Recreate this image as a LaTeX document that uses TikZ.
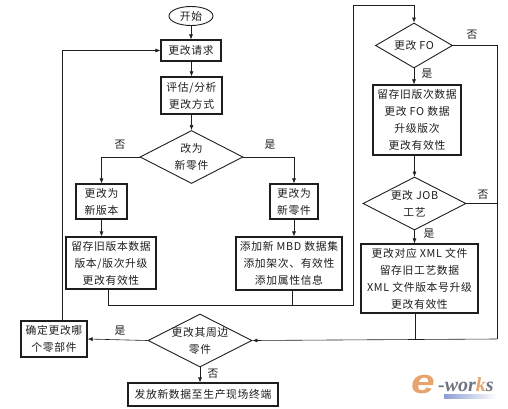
\documentclass[tikz,border=0pt]{standalone}
\usepackage{fontspec}
\setmainfont{Noto Sans CJK SC}[LetterSpace=6]
\newfontfamily\logofont{Liberation Sans}[BoldFont={Liberation Sans Bold},ItalicFont={Liberation Sans Italic},BoldItalicFont={Liberation Sans Bold Italic}]
\newfontfamily\logoserif{Liberation Serif}[BoldFont={Liberation Serif Bold},ItalicFont={Liberation Serif Italic},BoldItalicFont={Liberation Serif Bold Italic}]
\usetikzlibrary{shapes.geometric,arrows.meta}
\definecolor{ink}{HTML}{1E1E1E}
\definecolor{logoorange}{HTML}{E8A46C}
\definecolor{logogray}{HTML}{6F7280}
\definecolor{logoblue}{HTML}{8E9FD6}
\tikzset{
  x=1pt,y=-1pt,
  every node/.style={font=\fontsize{10.8}{17}\selectfont,text=ink},
  boxn/.style={draw=ink,line width=1.1pt,rectangle,inner sep=0pt,align=center},
  dec/.style={draw=ink,line width=0.9pt,diamond,inner sep=0pt},
  term/.style={draw=ink,line width=0.9pt,ellipse,inner sep=0pt},
  conn/.style={draw=ink,line width=0.6pt},
  flow/.style={conn,-{Latex[length=5pt,width=4pt]}},
  tag/.style={inner sep=0pt},
}
\begin{document}
\begin{tikzpicture}
\useasboundingbox (0,0) rectangle (508,409);
\node[term,minimum width=44pt,minimum height=19pt] (start) at (191,16) {开始};
\node[boxn,minimum width=60pt,minimum height=21pt] (req) at (191,50.5) {更改请求};
\node[boxn,minimum width=61pt,minimum height=37pt] (eval) at (191.5,95.5) {评估/分析\\更改方式};
\node[dec,minimum width=103pt,minimum height=53pt,label={[align=center,inner sep=0pt]center:改为\\新零件}] (d1) at (191.5,157) {};
\node[boxn,minimum width=51pt,minimum height=35pt] (v1) at (101.5,201.5) {更改为\\新版本};
\node[boxn,minimum width=48pt,minimum height=35pt] (p1) at (294,201.5) {更改为\\新零件};
\node[boxn,minimum width=90pt,minimum height=52pt] (v2) at (111,263) {留存旧版本数据\\版本/版次升级\\更改有效性};
\node[boxn,minimum width=106pt,minimum height=53pt] (p2) at (289,263.5) {添加新 MBD 数据集\\添加架次、有效性\\添加属性信息};
\node[dec,minimum width=77pt,minimum height=45pt,label={[inner sep=0pt]center:更改 FO}] (fo) at (414,45.5) {};
\node[boxn,minimum width=88pt,minimum height=70pt] (fo2) at (417,120) {留存旧版次数据\\更改 FO 数据\\升级版次\\更改有效性};
\node[dec,minimum width=103pt,minimum height=53pt,label={[align=center,inner sep=0pt]center:更改 JOB\\工艺}] (job) at (414.5,203.5) {};
\node[boxn,minimum width=117pt,minimum height=69pt] (job2) at (419.5,278.5) {更改对应 XML 文件\\留存旧工艺数据\\XML 文件版本号升级\\更改有效性};
\node[dec,minimum width=104pt,minimum height=53pt,label={[align=center,inner sep=0pt]center:更改其周边\\零件}] (d2) at (200,340.5) {};
\node[boxn,minimum width=66pt,minimum height=36pt] (which) at (54,339) {确定更改哪\\个零部件};
\node[boxn,minimum width=150pt,minimum height=23pt] (rel) at (203,394.5) {发放新数据至生产现场终端};

\coordinate (c1) at (108,305);
\coordinate (c2) at (353,305);
\coordinate (c3) at (353,5);
\coordinate (c4) at (414,5);
\coordinate (r1) at (497,45.5);
\coordinate (r2) at (497,339);
\coordinate (r3) at (415,339);
\coordinate (m1) at (292,305);

\draw[flow] (start) -- (req);
\draw[flow] (req.south -| eval) -- (eval.north);
\draw[flow] (eval) -- (d1);
\draw[flow] (d1.west) -| (v1.north);
\draw[flow] (d1.east) -| (p1.north);
\draw[flow] (v1.south) -- (v1.south |- v2.north);
\draw[flow] (p1.south) -- (p1.south |- p2.north);
\draw[conn] (v2.south -| c1) -- (c1) -- (c2) -- (c3) -- (c4);
\draw[flow] (c4) -- (fo.north);
\draw[conn] (p2.south -| m1) -- (m1);
\draw[flow] (fo.south) -- (fo.south |- fo2.north);
\draw[flow] (fo2.south -| job) -- (job.north);
\draw[flow] (job.south) -- (job.south |- job2.north);
\draw[conn] (fo.east) -- (r1) -- (r2);
\draw[conn] (job.east) -- (job.east -| r1);
\draw[conn] (job2.south -| r3) -- (r3);
\draw[flow] (r2) -- (d2.east);
\draw[flow] (d2.west) -- (which.east);
\draw[flow] (which.north -| 62,0) -- (62,50.5) -- (req.west);
\draw[flow] (d2.south) -- (d2.south |- rel.north);

\node[tag] (no1) at (120,145) {否};
\node[tag] (yes1) at (270,145) {是};
\node[tag] (no2) at (472,35) {否};
\node[tag] (yes2) at (427,74) {是};
\node[tag] (no3) at (483,195) {否};
\node[tag] (yes3) at (429,234) {是};
\node[tag] (yes4) at (120,331) {是};
\node[tag] (no4) at (213,374) {否};

\shade[left color=logoblue,right color=white] (444,394) rectangle (497,398);
\node[inner sep=0pt,anchor=base west,text=logoorange,font=\logofont\bfseries\itshape\fontsize{34}{34}\selectfont] (logoe) at (411,393) {\scalebox{1.25}[1]{e}};
\node[inner sep=0pt,anchor=base west,font=\logoserif\bfseries\itshape\fontsize{20}{20}\selectfont,text=logogray] (logot) at (438,391) {-wor\textcolor{logoorange}{k}s};
\end{tikzpicture}
\end{document}
